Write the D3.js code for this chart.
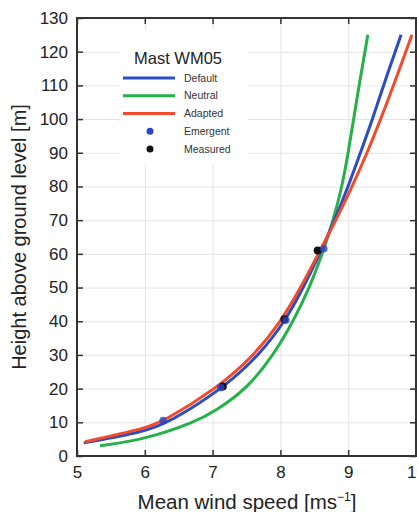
<!DOCTYPE html>
<html>
<head>
<meta charset="utf-8">
<script src="https://d3js.org/d3.v7.min.js"></script>
<style>
  body { margin: 0; background: #fff; }
  text { font-family: "Liberation Sans", Arial, sans-serif; }
</style>
</head>
<body>
<svg width="417" height="512"></svg>
<script>
// tick values
var speedTicks = [5, 6, 7, 8, 9, 10];
var heightTicks = [0, 10, 20, 30, 40, 50, 60, 70, 80, 90, 100, 110, 120, 130];

// profiles: [speed, height]
var defaultProfile = [[5.1, 3.9], [6.0, 7.2], [6.36, 10], [7.15, 20], [7.69, 30], [8.07, 40], [8.34, 50], [8.58, 60],
  [8.8, 70], [9.0, 80], [9.18, 90], [9.36, 100], [9.52, 110], [9.78, 125]];
var neutralProfile = [[5.34, 3.05], [6.0, 4.9], [6.73, 10], [7.03, 13.2], [7.51, 20], [7.9, 30], [8.19, 40], [8.43, 50],
  [8.62, 60], [8.78, 70], [8.91, 80], [9.0, 90], [9.08, 100], [9.16, 110], [9.29, 125]];
var adaptedProfile = [[5.12, 4.25], [6.0, 8.2], [6.25, 10], [7.06, 20], [7.62, 30], [8.01, 40], [8.3, 50], [8.56, 60],
  [8.82, 70], [9.06, 80], [9.28, 90], [9.48, 100], [9.67, 110], [9.94, 125]];

var measured = [[7.15, 20.6], [8.06, 40.6], [8.55, 61.0]];
var emergent = [[6.27, 10.5], [7.12, 20.3], [8.08, 40.3], [8.64, 61.5]];

var legendNames = ["Default", "Neutral", "Adapted", "Emergent", "Measured"];
var colors = {Default: "#2b4cc4", Neutral: "#25b04a", Adapted: "#f24a2b", Emergent: "#2a45c6", Measured: "#111"};

var margin = {left: 77, right: 416, top: 18, bottom: 456};

var x = d3.scaleLinear().domain([5, 10]).range([margin.left, margin.right]);
var y = d3.scaleLinear().domain([0, 130]).range([margin.bottom, margin.top]);

var svg = d3.select("svg");
var plotW = margin.right - margin.left;
var plotH = margin.bottom - margin.top;

// grid
svg.append("g")
  .attr("transform", "translate(0," + margin.bottom + ")")
  .call(d3.axisBottom(x).tickValues(speedTicks).tickSize(-plotH).tickFormat(""))
  .call(g => g.select(".domain").remove())
  .selectAll("line").attr("stroke", "#e4e4e4");
svg.append("g")
  .attr("transform", "translate(" + margin.left + ",0)")
  .call(d3.axisLeft(y).tickValues(heightTicks).tickSize(-plotW).tickFormat(""))
  .call(g => g.select(".domain").remove())
  .selectAll("line").attr("stroke", "#e4e4e4");

// legend background covers grid
svg.append("rect").attr("x", 120).attr("y", 30).attr("width", 128).attr("height", 134).attr("fill", "#fff");

// curves
var line = d3.line().x(d => x(d[0])).y(d => y(d[1])).curve(d3.curveBasis);
[["Neutral", neutralProfile], ["Default", defaultProfile], ["Adapted", adaptedProfile]].forEach(function(p) {
  svg.append("path").datum(p[1])
    .attr("d", line)
    .attr("fill", "none")
    .attr("stroke", colors[p[0]])
    .attr("stroke-width", 3);
});

svg.selectAll("circle.meas").data(measured).enter().append("circle")
  .attr("class", "meas")
  .attr("cx", d => x(d[0])).attr("cy", d => y(d[1])).attr("r", 4)
  .attr("fill", colors.Measured);
svg.selectAll("circle.emer").data(emergent).enter().append("circle")
  .attr("class", "emer")
  .attr("cx", d => x(d[0])).attr("cy", d => y(d[1])).attr("r", 3.8)
  .attr("fill", colors.Emergent).attr("opacity", 0.8);

// axes with inward ticks
function styleAxis(g) {
  g.select(".domain").remove();
  g.selectAll("line").attr("stroke", "#333").attr("stroke-width", 1.5);
  g.selectAll("text").attr("fill", "#222").style("font-size", "17px")
    .style("font-family", "'Liberation Sans', Arial, sans-serif");
}
svg.append("g").attr("transform", "translate(0," + margin.bottom + ")")
  .call(d3.axisBottom(x).tickValues(speedTicks).tickSize(-6).tickPadding(10).tickFormat(d3.format("d")))
  .call(styleAxis);
svg.append("g").attr("transform", "translate(0," + margin.top + ")")
  .call(d3.axisTop(x).tickValues(speedTicks).tickSize(-6).tickFormat(""))
  .call(styleAxis);
svg.append("g").attr("transform", "translate(" + margin.left + ",0)")
  .call(d3.axisLeft(y).tickValues(heightTicks).tickSize(-6).tickPadding(9))
  .call(styleAxis);
svg.append("g").attr("transform", "translate(" + margin.right + ",0)")
  .call(d3.axisRight(y).tickValues(heightTicks).tickSize(-6).tickFormat(""))
  .call(styleAxis);

svg.append("rect")
  .attr("x", margin.left).attr("y", margin.top).attr("width", plotW).attr("height", plotH)
  .attr("fill", "none").attr("stroke", "#333").attr("stroke-width", 2);

// axis titles
var xt = svg.append("text").attr("x", 247).attr("y", 509).attr("text-anchor", "middle")
  .attr("fill", "#222").style("font-size", "20.5px").text("Mean wind speed [ms");
xt.append("tspan").attr("dy", -8).style("font-size", "12px").text("\u22121");
xt.append("tspan").attr("dy", 8).text("]");

svg.append("text").attr("transform", "translate(26,237) rotate(-90)")
  .attr("text-anchor", "middle").attr("fill", "#222").style("font-size", "20px")
  .text("Height above ground level [m]");

// legend
svg.append("text").attr("x", 178).attr("y", 64).attr("text-anchor", "middle")
  .attr("fill", "#222").style("font-size", "16.5px").text("Mast WM05");
var rowY = d3.scalePoint().domain(legendNames).range([78, 149]);
var lg = svg.selectAll("g.leg").data(legendNames).enter().append("g").attr("class", "leg")
  .attr("transform", d => "translate(0," + rowY(d) + ")");
lg.filter((d, i) => i < 3).append("line")
  .attr("x1", 123).attr("x2", 175).attr("stroke", d => colors[d]).attr("stroke-width", 3);
lg.filter((d, i) => i >= 3).append("circle")
  .attr("cx", 150).attr("r", 3.5).attr("fill", d => colors[d]);
lg.append("text").attr("x", 184).attr("dy", "0.35em").attr("fill", "#333")
  .style("font-size", "10.5px").text(d => d);
</script>
</body>
</html>
